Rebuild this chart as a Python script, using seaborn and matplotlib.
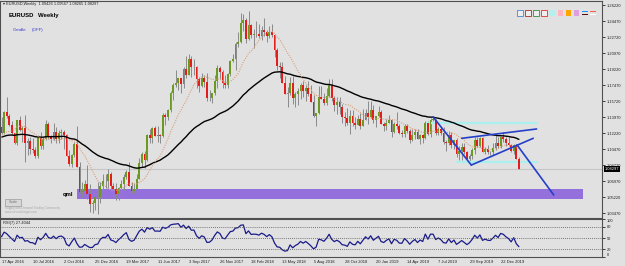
import numpy as np
import pandas as pd
import matplotlib
matplotlib.use("Agg")
import matplotlib.pyplot as plt
from matplotlib.patches import Rectangle
import seaborn as sns

# weekly closes before the visible window (Oct 2014 .. 15 Apr 2016), only used to warm up the averages / RSI
history_close = [
    1.2515, 1.2625, 1.2760, 1.2670, 1.2525, 1.2450, 1.2525, 1.2390, 1.2450, 1.2290,
    1.2465, 1.2225, 1.2180, 1.2000, 1.1840, 1.1565, 1.1205, 1.1290, 1.1315, 1.1390,
    1.1380, 1.1195, 1.0845, 1.0495, 1.0820, 1.0890, 1.0970, 1.0600, 1.0805,
    1.0875, 1.1200, 1.1200, 1.1445, 1.1015, 1.0985, 1.1115, 1.1265, 1.1350, 1.1165,
    1.1110, 1.1165, 1.0830, 1.0980, 1.0985, 1.0970, 1.1105, 1.1385, 1.1185, 1.1145,
    1.1340, 1.1300, 1.1195, 1.1215, 1.1360, 1.1350, 1.1015, 1.1005, 1.0740, 1.0770,
    1.0645, 1.0590, 1.0885, 1.0990, 1.0865, 1.0965, 1.0860, 1.0920, 1.0915, 1.0795,
    1.0830, 1.1155, 1.1255, 1.1130, 1.0935, 1.1005, 1.1150, 1.1270, 1.1170, 1.1390,
    1.1400, 1.1285,
]

# visible weekly bars, 17 Apr 2016 .. 9 Feb 2020
high = [
    1.1400, 1.1460, 1.1615, 1.1430, 1.1350, 1.1225, 1.1365, 1.1415, 1.1300, 1.1425,
    1.1170, 1.1185, 1.1165, 1.1070, 1.1200, 1.1235, 1.1185, 1.1365, 1.1340, 1.1200,
    1.1330, 1.1285, 1.1260, 1.1265, 1.1255, 1.1210, 1.1040, 1.0990, 1.1125, 1.1300,
    1.0905, 1.0690, 1.0715, 1.0875, 1.0670, 1.0495, 1.0525, 1.0685, 1.0685, 1.0775,
    1.0775, 1.0830, 1.0795, 1.0680, 1.0680, 1.0630, 1.0715, 1.0780, 1.0825, 1.0905,
    1.0690, 1.0680, 1.0780, 1.0950, 1.1020, 1.1025, 1.1210, 1.1270, 1.1285, 1.1295,
    1.1295, 1.1215, 1.1445, 1.1445, 1.1490, 1.1680, 1.1775, 1.1910, 1.1830, 1.1830,
    1.1940, 1.2070, 1.2090, 1.2060, 1.2035, 1.1960, 1.1835, 1.1880, 1.1860, 1.1880,
    1.1690, 1.1665, 1.1860, 1.1965, 1.1960, 1.1915, 1.1860, 1.1880, 1.2025, 1.2090,
    1.2220, 1.2325, 1.2535, 1.2520, 1.2475, 1.2555, 1.2410, 1.2355, 1.2445, 1.2410,
    1.2390, 1.2475, 1.2345, 1.2395, 1.2415, 1.2300, 1.2150, 1.1995, 1.1995, 1.1845,
    1.1725, 1.1840, 1.1850, 1.1670, 1.1715, 1.1765, 1.1790, 1.1745, 1.1790, 1.1745,
    1.1640, 1.1445, 1.1735, 1.1735, 1.1660, 1.1720, 1.1815, 1.1815, 1.1625, 1.1620,
    1.1620, 1.1545, 1.1455, 1.1500, 1.1470, 1.1470, 1.1400, 1.1420, 1.1440, 1.1485,
    1.1485, 1.1570, 1.1570, 1.1530, 1.1415, 1.1515, 1.1470, 1.1345, 1.1375, 1.1420,
    1.1375, 1.1340, 1.1450, 1.1325, 1.1255, 1.1325, 1.1325, 1.1265, 1.1265, 1.1265,
    1.1265, 1.1215, 1.1215, 1.1350, 1.1350, 1.1385, 1.1410, 1.1375, 1.1285, 1.1285,
    1.1285, 1.1150, 1.1250, 1.1230, 1.1150, 1.1165, 1.1085, 1.1110, 1.1110, 1.1025,
    1.0995, 1.1060, 1.1180, 1.1180, 1.1175, 1.1180, 1.1070, 1.1095, 1.1030, 1.1115,
    1.1200, 1.1175, 1.1180, 1.1240, 1.1175, 1.1175, 1.1100, 1.1100, 1.1100, 1.09567,
]
low = [
    1.1215, 1.1215, 1.1390, 1.1305, 1.1200, 1.1100, 1.1095, 1.1250, 1.1130, 1.0910,
    1.0985, 1.1000, 1.1010, 1.0950, 1.0955, 1.1045, 1.1045, 1.1150, 1.1160, 1.1120,
    1.1145, 1.1120, 1.1120, 1.1160, 1.1045, 1.0970, 1.0860, 1.0850, 1.0965, 1.0850,
    1.0570, 1.0520, 1.0560, 1.0505, 1.0365, 1.0350, 1.0385, 1.0340, 1.0455, 1.0580,
    1.0625, 1.0620, 1.0585, 1.0520, 1.0495, 1.0495, 1.0525, 1.0600, 1.0725, 1.0650,
    1.0570, 1.0570, 1.0605, 1.0720, 1.0850, 1.0840, 1.0920, 1.1110, 1.1110, 1.1195,
    1.1130, 1.1120, 1.1180, 1.1310, 1.1370, 1.1455, 1.1580, 1.1730, 1.1690, 1.1660,
    1.1720, 1.1825, 1.1860, 1.1840, 1.1860, 1.1715, 1.1670, 1.1730, 1.1730, 1.1575,
    1.1570, 1.1555, 1.1640, 1.1720, 1.1810, 1.1715, 1.1715, 1.1720, 1.1850, 1.1995,
    1.1915, 1.2165, 1.2205, 1.2335, 1.2205, 1.2235, 1.2260, 1.2155, 1.2275, 1.2260,
    1.2240, 1.2285, 1.2215, 1.2260, 1.2275, 1.2055, 1.1910, 1.1820, 1.1765, 1.1645,
    1.1510, 1.1640, 1.1540, 1.1505, 1.1525, 1.1590, 1.1615, 1.1575, 1.1625, 1.1565,
    1.1400, 1.1300, 1.1435, 1.1595, 1.1525, 1.1530, 1.1615, 1.1570, 1.1460, 1.1435,
    1.1430, 1.1335, 1.1300, 1.1315, 1.1215, 1.1305, 1.1265, 1.1310, 1.1270, 1.1300,
    1.1365, 1.1325, 1.1390, 1.1330, 1.1290, 1.1400, 1.1320, 1.1250, 1.1260, 1.1330,
    1.1175, 1.1225, 1.1270, 1.1215, 1.1180, 1.1185, 1.1225, 1.1110, 1.1135, 1.1160,
    1.1160, 1.1105, 1.1115, 1.1160, 1.1200, 1.1180, 1.1350, 1.1205, 1.1200, 1.1200,
    1.1100, 1.1025, 1.1090, 1.1065, 1.1050, 1.0965, 1.0925, 1.0925, 1.0990, 1.0925,
    1.0880, 1.0940, 1.0990, 1.1075, 1.1070, 1.1015, 1.0990, 1.0990, 1.0980, 1.0980,
    1.1040, 1.1065, 1.1065, 1.1125, 1.1085, 1.1085, 1.1015, 1.0990, 1.0940, 1.08265,
]
close = [
    1.1225, 1.1455, 1.1405, 1.1310, 1.1220, 1.1115, 1.1365, 1.1255, 1.1280, 1.1115,
    1.1135, 1.1050, 1.1040, 1.0975, 1.1175, 1.1085, 1.1160, 1.1325, 1.1195, 1.1155,
    1.1235, 1.1155, 1.1225, 1.1240, 1.1200, 1.0970, 1.0880, 1.0985, 1.1100, 1.0855,
    1.0585, 1.0590, 1.0665, 1.0560, 1.0450, 1.0455, 1.0520, 1.0530, 1.0645, 1.0700,
    1.0695, 1.0780, 1.0640, 1.0615, 1.0560, 1.0620, 1.0670, 1.0740, 1.0800, 1.0650,
    1.0590, 1.0615, 1.0725, 1.0895, 1.0995, 1.0930, 1.1205, 1.1165, 1.1280, 1.1195,
    1.1200, 1.1195, 1.1425, 1.1400, 1.1470, 1.1665, 1.1750, 1.1775, 1.1820, 1.1760,
    1.1925, 1.1860, 1.2035, 1.1945, 1.1950, 1.1815, 1.1735, 1.1820, 1.1785, 1.1605,
    1.1610, 1.1665, 1.1795, 1.1935, 1.1895, 1.1770, 1.1750, 1.1865, 1.2005, 1.2030,
    1.2200, 1.2220, 1.2425, 1.2460, 1.2250, 1.2405, 1.2295, 1.2310, 1.2305, 1.2285,
    1.2350, 1.2325, 1.2280, 1.2330, 1.2290, 1.2130, 1.1960, 1.1940, 1.1770, 1.1650,
    1.1660, 1.1770, 1.1605, 1.1655, 1.1685, 1.1745, 1.1685, 1.1720, 1.1655, 1.1565,
    1.1410, 1.1440, 1.1620, 1.1600, 1.1555, 1.1625, 1.1745, 1.1605, 1.1525, 1.1560,
    1.1510, 1.1400, 1.1385, 1.1335, 1.1415, 1.1335, 1.1315, 1.1375, 1.1305, 1.1370,
    1.1445, 1.1395, 1.1470, 1.1365, 1.1410, 1.1455, 1.1325, 1.1295, 1.1335, 1.1365,
    1.1235, 1.1325, 1.1300, 1.1220, 1.1215, 1.1300, 1.1245, 1.1150, 1.1200, 1.1235,
    1.1160, 1.1205, 1.1170, 1.1335, 1.1210, 1.1370, 1.1370, 1.1225, 1.1270, 1.1220,
    1.1125, 1.1110, 1.1200, 1.1090, 1.1145, 1.0990, 1.1030, 1.1075, 1.1015, 1.0940,
    1.0975, 1.1040, 1.1145, 1.1080, 1.1165, 1.1020, 1.1050, 1.1020, 1.1015, 1.1060,
    1.1120, 1.1080, 1.1175, 1.1160, 1.1120, 1.1090, 1.1025, 1.1095, 1.0945, 1.08297,
]
last_ohlc = [1.09426, 1.09567, 1.08265, 1.08297]
rsi_label = "RSI(7) 27.4044"

date_labels = ["17 Apr 2016", "10 Jul 2016", "2 Oct 2016", "25 Dec 2016", "19 Mar 2017",
               "11 Jun 2017", "3 Sep 2017", "26 Nov 2017", "18 Feb 2018", "13 May 2018",
               "5 Aug 2018", "28 Oct 2018", "20 Jan 2019", "14 Apr 2019", "7 Jul 2019",
               "29 Sep 2019", "22 Dec 2019"]
price_ticks = [1.26220, 1.24470, 1.22720, 1.20970, 1.19220, 1.17470, 1.15720,
               1.13970, 1.12220, 1.10470, 1.08720, 1.06970, 1.05220, 1.03470]
rsi_levels = [80, 50, 20]
rsi_ticks = [100, 80, 50, 20, 0]

# drawn objects (bar index, price)
leg_down_x, leg_down_y = [166.0, 180.7], [1.1399, 1.0874]
wedge_low_x, wedge_low_y = [180.7, 204.5], [1.0874, 1.1166]
wedge_up_x, wedge_up_y = [177.0, 205.8], [1.1166, 1.1268]
target_x, target_y = [198.3, 212.4], [1.1093, 1.0547]
cyan_top_x, cyan_top_y = [163.5, 206.1], 1.1330
cyan_bot_x, cyan_bot_y = [175.1, 205.8], 1.0911
qml_x, qml_top, qml_bottom = [29.0, 223.7], 1.0609, 1.0500

# ---- derived series
all_close = pd.Series(history_close + close)
n_hist = len(history_close)
ema50 = all_close.ewm(span=50, adjust=False).mean().iloc[n_hist:].to_numpy()
sma13 = all_close.rolling(13).mean().iloc[n_hist:].to_numpy()
delta = all_close.diff()
avg_gain = delta.clip(lower=0).ewm(alpha=1 / 7, adjust=False).mean()
avg_loss = (-delta.clip(upper=0)).ewm(alpha=1 / 7, adjust=False).mean()
rsi = (100 - 100 / (1 + avg_gain / avg_loss)).iloc[n_hist:].to_numpy()

bars = pd.DataFrame({"high": high, "low": low, "close": close})
bars["open"] = [history_close[-1]] + close[:-1]
bars.loc[len(bars) - 1, "open"] = last_ohlc[0]
bars["x"] = np.arange(len(bars))
bars["ema50"] = ema50
bars["sma13"] = sma13
bars["rsi"] = rsi

# ---- styling
BG = "#e1e1e1"
sns.set_style("white", rc={"axes.facecolor": BG, "figure.facecolor": BG})
plt.rcParams["font.family"] = ["Liberation Sans", "DejaVu Sans"]

W, H = 625, 266
fig = plt.figure(figsize=(W / 100, H / 100), dpi=100)
ax = fig.add_axes([0, 1 - 218 / H, 602 / W, 217 / H])
axr = fig.add_axes([0, 1 - 257 / H, 602 / W, 38 / H])

frame = "#505050"
for a in (ax, axr):
    a.set_facecolor(BG)
    for s in a.spines.values():
        s.set_color(frame)
        s.set_linewidth(0.8)
    a.set_xlim(-0.58, 230.96)

# ---- candles
up = bars["close"] >= bars["open"]
ax.vlines(bars["x"], bars["low"], bars["high"], color="#8a8a8a", linewidth=0.7, zorder=2)
body_lo = np.minimum(bars["open"], bars["close"])
body_h = np.maximum((bars["close"] - bars["open"]).abs(), 0.0004)
ax.bar(bars["x"], body_h, bottom=body_lo, width=0.7,
       color=np.where(up, "#6a9a22", "#e41c1c"), linewidth=0, zorder=3)

sns.lineplot(data=bars, x="x", y="ema50", ax=ax, color="black", linewidth=1.0, zorder=4)
sns.lineplot(data=bars, x="x", y="sma13", ax=ax, color="#d8a07c", linewidth=0.8,
             linestyle=(0, (1, 1.2)), zorder=4)

# current price line
ax.axhline(close[-1], color="#c6c6c6", linewidth=0.8, zorder=1)

# qml zone
ax.add_patch(Rectangle((qml_x[0], qml_bottom), qml_x[1] - qml_x[0], qml_top - qml_bottom,
                       facecolor="#9370db", edgecolor="none", zorder=1))
ax.text(qml_x[0] - 5.5, (qml_top + qml_bottom) / 2, "qml", fontsize=4.2, fontweight="bold",
        ha="left", va="center", color="black")

# pattern drawings
ax.plot(cyan_top_x, [cyan_top_y] * 2, color="#aaf0f0", linewidth=1.6, zorder=2)
ax.plot(cyan_bot_x, [cyan_bot_y] * 2, color="#aaf0f0", linewidth=1.6, zorder=2)
blue = "#2440c8"
for lx, ly in [(leg_down_x, leg_down_y), (wedge_low_x, wedge_low_y),
               (wedge_up_x, wedge_up_y), (target_x, target_y)]:
    ax.plot(lx, ly, color=blue, linewidth=1.2, zorder=5)

ax.set_ylim(1.02956, 1.26657)
ax.yaxis.tick_right()
ax.set_yticks(price_ticks)
ax.set_yticklabels([f"{p:.5f}" for p in price_ticks])
ax.tick_params(axis="y", length=2, width=0.6, pad=1.5, labelsize=2.9, colors="#202020")
ax.set_xticks([])
ax.set_xlabel("")
ax.set_ylabel("")

# price box
ax.annotate(f"{close[-1]:.5f}", xy=(1.0, close[-1]), xycoords=("axes fraction", "data"),
            xytext=(2, 0), textcoords="offset points", fontsize=2.9, color="white",
            ha="left", va="center",
            bbox=dict(boxstyle="square,pad=0.25", facecolor="black", edgecolor="none"))

# ---- RSI panel
sns.lineplot(data=bars, x="x", y="rsi", ax=axr, color="#1a1a8a", linewidth=0.9)
for lv in rsi_levels:
    axr.axhline(lv, color="#505050", linewidth=0.6, linestyle=(0, (1, 1.5)))
axr.set_ylim(0, 100)
axr.yaxis.tick_right()
axr.set_yticks(rsi_ticks)
axr.set_yticklabels([str(t) for t in rsi_ticks])
axr.tick_params(axis="y", length=2, width=0.6, pad=1.5, labelsize=2.9, colors="#202020")
ytl = axr.get_yticklabels()
ytl[0].set_va("top")
ytl[-1].set_va("bottom")
axr.set_xticks(np.arange(0, 12 * len(date_labels), 12))
axr.set_xticklabels(date_labels)
axr.tick_params(axis="x", length=1.5, width=0.6, pad=1.0, labelsize=3.0, colors="#202020")
for t in axr.get_xticklabels():
    t.set_ha("left")
axr.set_xlabel("")
axr.set_ylabel("")
axr.text(0.005, 0.9, rsi_label, transform=axr.transAxes, fontsize=2.9,
         ha="left", va="center", color="#202020")

# ---- chart chrome (pixel overlay)
ov = fig.add_axes([0, 0, 1, 1], zorder=10)
ov.set_xlim(0, W)
ov.set_ylim(H, 0)
ov.axis("off")
ov.patch.set_alpha(0)
ov.text(3, 4.5, "\u25be EURUSD,Weekly  " + " ".join(f"{v:.5f}" for v in last_ohlc),
        fontsize=2.8, ha="left", va="center", color="#202020")
ov.text(9, 15.5, "EURUSD", fontsize=4.3, fontweight="bold", ha="left", va="center", color="black")
ov.text(38, 15.5, "Weekly", fontsize=4.3, fontweight="bold", ha="left", va="center", color="black")
ov.text(13, 30, "Candle", fontsize=3.2, ha="left", va="center", color="#3a3ad0")
ov.text(32, 30, "(OFF)", fontsize=3.2, ha="left", va="center", color="#3a3ad0")
ov.add_patch(Rectangle((5, 199), 16, 6.5, facecolor="#d8d8d8", edgecolor="#9a9a9a", linewidth=0.5))
ov.text(13, 202.3, "Scale", fontsize=2.6, ha="center", va="center", color="#707070")
ov.text(5, 207.5, "Supply and Demand Trading Community", fontsize=2.2, ha="left", va="center",
        color="#a8a8a8")
ov.text(5, 211.5, "www.sd-and-forget.com", fontsize=2.2, ha="left", va="center", color="#a8a8a8")

button_fill = ["#eeeeee", "#eeeeee", "#eeeeee", "#eeeeee", "#b4f0f0", "#ffb6c1", "#ffa500", "#dda0dd"]
button_edge = ["#4a86d0", "#a83030", "#3a8a3a", "#e03030", "none", "none", "none", "none"]
for k, (fc, ec) in enumerate(zip(button_fill, button_edge)):
    ov.add_patch(Rectangle((517 + 8.1 * k, 10), 5.5, 5.5, facecolor=fc,
                           edgecolor=ec, linewidth=0.6))
for k, (c1, c2) in enumerate([("#1e90ff", "#5a0a0a"), ("#ff5a46", "#ffffff")]):
    bx = 517 + 8.1 * (8 + k)
    ov.add_patch(Rectangle((bx, 10.5), 6, 1.6, facecolor=c1, edgecolor="none"))
    ov.add_patch(Rectangle((bx, 13.8), 6, 1.6, facecolor=c2, edgecolor="none"))

fig.savefig("out.png", dpi=100, facecolor=BG)
